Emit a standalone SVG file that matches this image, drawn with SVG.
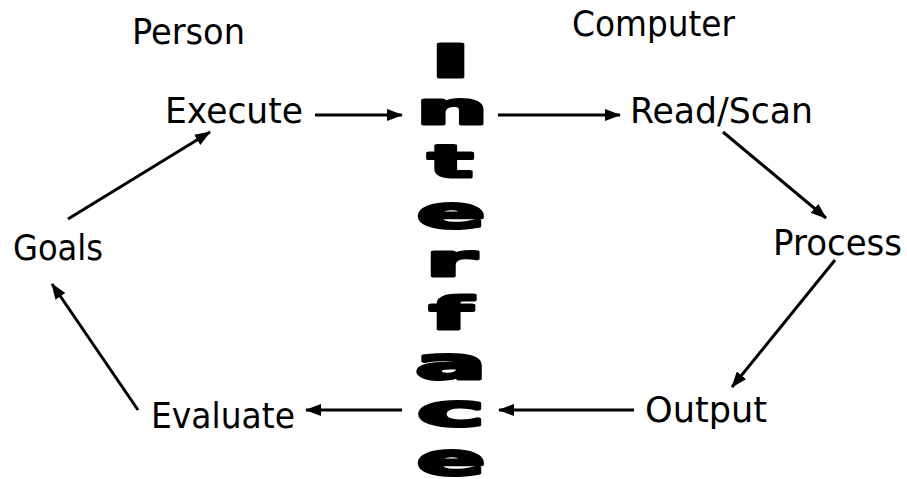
<svg xmlns="http://www.w3.org/2000/svg" width="907" height="479" viewBox="0 0 907 479">
<style>
.lbl{font-family:"DejaVu Sans","Liberation Sans",sans-serif;font-size:35px;fill:#000}
.big{font-family:"DejaVu Sans","Liberation Sans",sans-serif;font-weight:bold;font-size:45px;fill:#000;stroke:#000;stroke-width:3;stroke-linejoin:round;text-anchor:middle}
.arr{stroke:#000;stroke-width:3;fill:none;marker-end:url(#ah)}
</style>
<defs>
<marker id="ah" markerUnits="userSpaceOnUse" markerWidth="16" markerHeight="12" refX="15" refY="6" orient="auto">
<path d="M0,0 L16,6 L0,12 z" fill="#000"/>
</marker>
</defs>
<rect width="907" height="479" fill="#fff"/>
<g id="person"><text class="lbl" x="132" y="44" textLength="113" lengthAdjust="spacingAndGlyphs">Person</text></g>
<g id="computer"><text class="lbl" x="572" y="36" textLength="163" lengthAdjust="spacingAndGlyphs">Computer</text></g>
<g id="execute"><text class="lbl" x="165" y="123" textLength="138" lengthAdjust="spacingAndGlyphs">Execute</text></g>
<g id="readscan"><text class="lbl" x="630" y="123" textLength="183" lengthAdjust="spacingAndGlyphs">Read/Scan</text></g>
<g id="goals"><text class="lbl" x="13" y="260" textLength="90" lengthAdjust="spacingAndGlyphs">Goals</text></g>
<g id="process"><text class="lbl" x="773" y="255" textLength="129" lengthAdjust="spacingAndGlyphs">Process</text></g>
<g id="output"><text class="lbl" x="645" y="422" textLength="122" lengthAdjust="spacingAndGlyphs">Output</text></g>
<g id="evaluate"><text class="lbl" x="151" y="428" textLength="144" lengthAdjust="spacingAndGlyphs">Evaluate</text></g>
<g id="interface">
<text class="big" transform="translate(450.5 77) scale(2.4 1)">I</text>
<text class="big" transform="translate(452 124) scale(2.25 1)">n</text>
<text class="big" transform="translate(450.5 177) scale(2.1 1)">t</text>
<text class="big" transform="translate(451 228) scale(2.25 1)">e</text>
<text class="big" transform="translate(451 276) scale(2.3 1)">r</text>
<text class="big" transform="translate(451 329) scale(2.2 1)">f</text>
<text class="big" transform="translate(451 379) scale(2.35 1)">a</text>
<text class="big" transform="translate(451 426) scale(2.55 1)">c</text>
<text class="big" transform="translate(451 475) scale(2.25 1)">e</text>
</g>
<g id="connectors">
<line class="arr" x1="315" y1="115" x2="402" y2="115"/>
<line class="arr" x1="498" y1="115" x2="620" y2="115"/>
<line class="arr" x1="723" y1="132" x2="826" y2="218"/>
<line class="arr" x1="835" y1="260" x2="732" y2="387"/>
<line class="arr" x1="634" y1="410" x2="499" y2="410"/>
<line class="arr" x1="402" y1="410" x2="306" y2="410"/>
<line class="arr" x1="138" y1="410" x2="52" y2="284"/>
<line class="arr" x1="68" y1="219" x2="210" y2="132"/>
</g>
</svg>
